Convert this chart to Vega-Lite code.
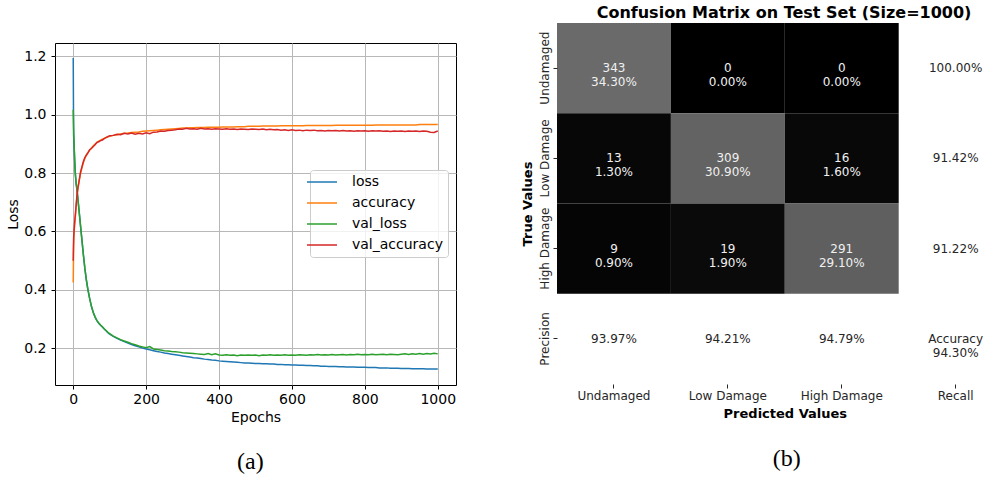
{
  "$schema": "https://vega.github.io/schema/vega-lite/v6.json",
  "padding": {"left": 6, "top": 5, "right": 0, "bottom": 0},
  "spacing": 63,
  "config": {
    "font": "DejaVu Sans",
    "view": {"stroke": null},
    "axis": {"labelFont": "DejaVu Sans", "titleFont": "DejaVu Sans"},
    "title": {"font": "DejaVu Sans"}
  },
  "datasets": {
    "hist": [
      {"epoch": 0, "loss": 1.194, "accuracy": 0.425, "val_loss": 1.017, "val_accuracy": 0.499},
      {"epoch": 1, "loss": 0.930, "accuracy": 0.545, "val_loss": 0.960, "val_accuracy": 0.574},
      {"epoch": 2, "loss": 0.905, "accuracy": 0.585, "val_loss": 0.915, "val_accuracy": 0.597},
      {"epoch": 3, "loss": 0.872, "accuracy": 0.607, "val_loss": 0.878, "val_accuracy": 0.615},
      {"epoch": 4, "loss": 0.840, "accuracy": 0.625, "val_loss": 0.845, "val_accuracy": 0.632},
      {"epoch": 5, "loss": 0.812, "accuracy": 0.640, "val_loss": 0.818, "val_accuracy": 0.645},
      {"epoch": 6, "loss": 0.792, "accuracy": 0.655, "val_loss": 0.797, "val_accuracy": 0.660},
      {"epoch": 8, "loss": 0.762, "accuracy": 0.685, "val_loss": 0.765, "val_accuracy": 0.692},
      {"epoch": 10, "loss": 0.745, "accuracy": 0.715, "val_loss": 0.747, "val_accuracy": 0.720},
      {"epoch": 12, "loss": 0.722, "accuracy": 0.738, "val_loss": 0.722, "val_accuracy": 0.742},
      {"epoch": 14, "loss": 0.696, "accuracy": 0.755, "val_loss": 0.697, "val_accuracy": 0.758},
      {"epoch": 17, "loss": 0.658, "accuracy": 0.778, "val_loss": 0.658, "val_accuracy": 0.780},
      {"epoch": 20, "loss": 0.620, "accuracy": 0.798, "val_loss": 0.619, "val_accuracy": 0.803},
      {"epoch": 24, "loss": 0.568, "accuracy": 0.818, "val_loss": 0.569, "val_accuracy": 0.822},
      {"epoch": 28, "loss": 0.518, "accuracy": 0.836, "val_loss": 0.518, "val_accuracy": 0.840},
      {"epoch": 32, "loss": 0.472, "accuracy": 0.851, "val_loss": 0.472, "val_accuracy": 0.853},
      {"epoch": 36, "loss": 0.434, "accuracy": 0.862, "val_loss": 0.434, "val_accuracy": 0.861},
      {"epoch": 40, "loss": 0.403, "accuracy": 0.870, "val_loss": 0.402, "val_accuracy": 0.868},
      {"epoch": 45, "loss": 0.370, "accuracy": 0.878, "val_loss": 0.370, "val_accuracy": 0.880},
      {"epoch": 50, "loss": 0.342, "accuracy": 0.886, "val_loss": 0.343, "val_accuracy": 0.884},
      {"epoch": 55, "loss": 0.322, "accuracy": 0.893, "val_loss": 0.322, "val_accuracy": 0.891},
      {"epoch": 60, "loss": 0.306, "accuracy": 0.899, "val_loss": 0.306, "val_accuracy": 0.897},
      {"epoch": 65, "loss": 0.294, "accuracy": 0.904, "val_loss": 0.294, "val_accuracy": 0.905},
      {"epoch": 70, "loss": 0.285, "accuracy": 0.909, "val_loss": 0.286, "val_accuracy": 0.907},
      {"epoch": 75, "loss": 0.278, "accuracy": 0.913, "val_loss": 0.279, "val_accuracy": 0.911},
      {"epoch": 80, "loss": 0.272, "accuracy": 0.916, "val_loss": 0.273, "val_accuracy": 0.913},
      {"epoch": 85, "loss": 0.265, "accuracy": 0.919, "val_loss": 0.266, "val_accuracy": 0.918},
      {"epoch": 90, "loss": 0.259, "accuracy": 0.922, "val_loss": 0.260, "val_accuracy": 0.921},
      {"epoch": 95, "loss": 0.253, "accuracy": 0.924, "val_loss": 0.254, "val_accuracy": 0.925},
      {"epoch": 100, "loss": 0.248, "accuracy": 0.926, "val_loss": 0.249, "val_accuracy": 0.928},
      {"epoch": 110, "loss": 0.240, "accuracy": 0.929, "val_loss": 0.241, "val_accuracy": 0.929},
      {"epoch": 120, "loss": 0.233, "accuracy": 0.931, "val_loss": 0.235, "val_accuracy": 0.933},
      {"epoch": 130, "loss": 0.227, "accuracy": 0.934, "val_loss": 0.229, "val_accuracy": 0.931},
      {"epoch": 140, "loss": 0.222, "accuracy": 0.936, "val_loss": 0.224, "val_accuracy": 0.936},
      {"epoch": 150, "loss": 0.217, "accuracy": 0.937, "val_loss": 0.220, "val_accuracy": 0.934},
      {"epoch": 160, "loss": 0.212, "accuracy": 0.939, "val_loss": 0.215, "val_accuracy": 0.937},
      {"epoch": 170, "loss": 0.208, "accuracy": 0.940, "val_loss": 0.211, "val_accuracy": 0.933},
      {"epoch": 180, "loss": 0.204, "accuracy": 0.941, "val_loss": 0.207, "val_accuracy": 0.936},
      {"epoch": 190, "loss": 0.200, "accuracy": 0.943, "val_loss": 0.204, "val_accuracy": 0.934},
      {"epoch": 200, "loss": 0.197, "accuracy": 0.944, "val_loss": 0.201, "val_accuracy": 0.938},
      {"epoch": 210, "loss": 0.194, "accuracy": 0.945, "val_loss": 0.205, "val_accuracy": 0.935},
      {"epoch": 220, "loss": 0.191, "accuracy": 0.946, "val_loss": 0.197, "val_accuracy": 0.940},
      {"epoch": 230, "loss": 0.188, "accuracy": 0.947, "val_loss": 0.195, "val_accuracy": 0.941},
      {"epoch": 240, "loss": 0.186, "accuracy": 0.948, "val_loss": 0.193, "val_accuracy": 0.944},
      {"epoch": 250, "loss": 0.183, "accuracy": 0.949, "val_loss": 0.191, "val_accuracy": 0.943},
      {"epoch": 260, "loss": 0.181, "accuracy": 0.950, "val_loss": 0.190, "val_accuracy": 0.946},
      {"epoch": 270, "loss": 0.179, "accuracy": 0.951, "val_loss": 0.188, "val_accuracy": 0.947},
      {"epoch": 280, "loss": 0.177, "accuracy": 0.952, "val_loss": 0.187, "val_accuracy": 0.948},
      {"epoch": 290, "loss": 0.175, "accuracy": 0.953, "val_loss": 0.186, "val_accuracy": 0.951},
      {"epoch": 300, "loss": 0.173, "accuracy": 0.954, "val_loss": 0.184, "val_accuracy": 0.950},
      {"epoch": 310, "loss": 0.171, "accuracy": 0.954, "val_loss": 0.183, "val_accuracy": 0.953},
      {"epoch": 320, "loss": 0.169, "accuracy": 0.955, "val_loss": 0.182, "val_accuracy": 0.951},
      {"epoch": 330, "loss": 0.167, "accuracy": 0.955, "val_loss": 0.181, "val_accuracy": 0.952},
      {"epoch": 340, "loss": 0.166, "accuracy": 0.956, "val_loss": 0.180, "val_accuracy": 0.950},
      {"epoch": 350, "loss": 0.164, "accuracy": 0.956, "val_loss": 0.179, "val_accuracy": 0.953},
      {"epoch": 360, "loss": 0.162, "accuracy": 0.956, "val_loss": 0.178, "val_accuracy": 0.951},
      {"epoch": 370, "loss": 0.161, "accuracy": 0.957, "val_loss": 0.181, "val_accuracy": 0.952},
      {"epoch": 380, "loss": 0.159, "accuracy": 0.957, "val_loss": 0.177, "val_accuracy": 0.950},
      {"epoch": 390, "loss": 0.158, "accuracy": 0.957, "val_loss": 0.180, "val_accuracy": 0.952},
      {"epoch": 400, "loss": 0.156, "accuracy": 0.957, "val_loss": 0.176, "val_accuracy": 0.951},
      {"epoch": 410, "loss": 0.155, "accuracy": 0.958, "val_loss": 0.175, "val_accuracy": 0.950},
      {"epoch": 420, "loss": 0.154, "accuracy": 0.958, "val_loss": 0.177, "val_accuracy": 0.952},
      {"epoch": 430, "loss": 0.153, "accuracy": 0.958, "val_loss": 0.175, "val_accuracy": 0.950},
      {"epoch": 440, "loss": 0.152, "accuracy": 0.958, "val_loss": 0.176, "val_accuracy": 0.951},
      {"epoch": 450, "loss": 0.151, "accuracy": 0.959, "val_loss": 0.174, "val_accuracy": 0.949},
      {"epoch": 460, "loss": 0.150, "accuracy": 0.959, "val_loss": 0.176, "val_accuracy": 0.951},
      {"epoch": 470, "loss": 0.149, "accuracy": 0.959, "val_loss": 0.175, "val_accuracy": 0.950},
      {"epoch": 480, "loss": 0.149, "accuracy": 0.960, "val_loss": 0.176, "val_accuracy": 0.949},
      {"epoch": 490, "loss": 0.148, "accuracy": 0.960, "val_loss": 0.175, "val_accuracy": 0.951},
      {"epoch": 500, "loss": 0.147, "accuracy": 0.960, "val_loss": 0.176, "val_accuracy": 0.950},
      {"epoch": 510, "loss": 0.147, "accuracy": 0.960, "val_loss": 0.174, "val_accuracy": 0.949},
      {"epoch": 520, "loss": 0.146, "accuracy": 0.961, "val_loss": 0.176, "val_accuracy": 0.951},
      {"epoch": 530, "loss": 0.146, "accuracy": 0.961, "val_loss": 0.175, "val_accuracy": 0.948},
      {"epoch": 540, "loss": 0.145, "accuracy": 0.961, "val_loss": 0.177, "val_accuracy": 0.950},
      {"epoch": 550, "loss": 0.145, "accuracy": 0.961, "val_loss": 0.175, "val_accuracy": 0.948},
      {"epoch": 560, "loss": 0.144, "accuracy": 0.961, "val_loss": 0.176, "val_accuracy": 0.949},
      {"epoch": 570, "loss": 0.144, "accuracy": 0.962, "val_loss": 0.175, "val_accuracy": 0.947},
      {"epoch": 580, "loss": 0.143, "accuracy": 0.962, "val_loss": 0.177, "val_accuracy": 0.948},
      {"epoch": 590, "loss": 0.143, "accuracy": 0.962, "val_loss": 0.175, "val_accuracy": 0.946},
      {"epoch": 600, "loss": 0.142, "accuracy": 0.962, "val_loss": 0.176, "val_accuracy": 0.948},
      {"epoch": 610, "loss": 0.142, "accuracy": 0.962, "val_loss": 0.175, "val_accuracy": 0.946},
      {"epoch": 620, "loss": 0.141, "accuracy": 0.962, "val_loss": 0.177, "val_accuracy": 0.947},
      {"epoch": 630, "loss": 0.141, "accuracy": 0.962, "val_loss": 0.176, "val_accuracy": 0.945},
      {"epoch": 640, "loss": 0.140, "accuracy": 0.963, "val_loss": 0.175, "val_accuracy": 0.947},
      {"epoch": 650, "loss": 0.140, "accuracy": 0.963, "val_loss": 0.177, "val_accuracy": 0.946},
      {"epoch": 660, "loss": 0.139, "accuracy": 0.963, "val_loss": 0.176, "val_accuracy": 0.947},
      {"epoch": 670, "loss": 0.139, "accuracy": 0.963, "val_loss": 0.178, "val_accuracy": 0.945},
      {"epoch": 680, "loss": 0.138, "accuracy": 0.963, "val_loss": 0.176, "val_accuracy": 0.946},
      {"epoch": 690, "loss": 0.138, "accuracy": 0.963, "val_loss": 0.177, "val_accuracy": 0.944},
      {"epoch": 700, "loss": 0.137, "accuracy": 0.963, "val_loss": 0.176, "val_accuracy": 0.946},
      {"epoch": 710, "loss": 0.137, "accuracy": 0.963, "val_loss": 0.178, "val_accuracy": 0.945},
      {"epoch": 720, "loss": 0.137, "accuracy": 0.964, "val_loss": 0.176, "val_accuracy": 0.946},
      {"epoch": 730, "loss": 0.136, "accuracy": 0.964, "val_loss": 0.177, "val_accuracy": 0.944},
      {"epoch": 740, "loss": 0.136, "accuracy": 0.964, "val_loss": 0.178, "val_accuracy": 0.946},
      {"epoch": 750, "loss": 0.135, "accuracy": 0.964, "val_loss": 0.176, "val_accuracy": 0.944},
      {"epoch": 760, "loss": 0.135, "accuracy": 0.964, "val_loss": 0.178, "val_accuracy": 0.945},
      {"epoch": 770, "loss": 0.135, "accuracy": 0.964, "val_loss": 0.177, "val_accuracy": 0.943},
      {"epoch": 780, "loss": 0.134, "accuracy": 0.964, "val_loss": 0.179, "val_accuracy": 0.945},
      {"epoch": 790, "loss": 0.134, "accuracy": 0.964, "val_loss": 0.177, "val_accuracy": 0.944},
      {"epoch": 800, "loss": 0.134, "accuracy": 0.964, "val_loss": 0.178, "val_accuracy": 0.945},
      {"epoch": 810, "loss": 0.133, "accuracy": 0.964, "val_loss": 0.177, "val_accuracy": 0.943},
      {"epoch": 820, "loss": 0.133, "accuracy": 0.964, "val_loss": 0.179, "val_accuracy": 0.945},
      {"epoch": 830, "loss": 0.133, "accuracy": 0.965, "val_loss": 0.177, "val_accuracy": 0.944},
      {"epoch": 840, "loss": 0.132, "accuracy": 0.965, "val_loss": 0.178, "val_accuracy": 0.945},
      {"epoch": 850, "loss": 0.132, "accuracy": 0.965, "val_loss": 0.179, "val_accuracy": 0.943},
      {"epoch": 860, "loss": 0.132, "accuracy": 0.965, "val_loss": 0.177, "val_accuracy": 0.944},
      {"epoch": 870, "loss": 0.131, "accuracy": 0.965, "val_loss": 0.179, "val_accuracy": 0.942},
      {"epoch": 880, "loss": 0.131, "accuracy": 0.965, "val_loss": 0.178, "val_accuracy": 0.944},
      {"epoch": 890, "loss": 0.131, "accuracy": 0.965, "val_loss": 0.177, "val_accuracy": 0.943},
      {"epoch": 900, "loss": 0.130, "accuracy": 0.965, "val_loss": 0.179, "val_accuracy": 0.944},
      {"epoch": 910, "loss": 0.130, "accuracy": 0.965, "val_loss": 0.180, "val_accuracy": 0.942},
      {"epoch": 920, "loss": 0.130, "accuracy": 0.965, "val_loss": 0.178, "val_accuracy": 0.944},
      {"epoch": 930, "loss": 0.129, "accuracy": 0.965, "val_loss": 0.180, "val_accuracy": 0.943},
      {"epoch": 940, "loss": 0.129, "accuracy": 0.965, "val_loss": 0.179, "val_accuracy": 0.944},
      {"epoch": 950, "loss": 0.129, "accuracy": 0.966, "val_loss": 0.181, "val_accuracy": 0.942},
      {"epoch": 960, "loss": 0.129, "accuracy": 0.966, "val_loss": 0.179, "val_accuracy": 0.944},
      {"epoch": 970, "loss": 0.128, "accuracy": 0.966, "val_loss": 0.181, "val_accuracy": 0.943},
      {"epoch": 980, "loss": 0.128, "accuracy": 0.966, "val_loss": 0.180, "val_accuracy": 0.940},
      {"epoch": 990, "loss": 0.128, "accuracy": 0.966, "val_loss": 0.182, "val_accuracy": 0.939},
      {"epoch": 1000, "loss": 0.128, "accuracy": 0.966, "val_loss": 0.180, "val_accuracy": 0.944}
    ],
    "cells": [
      {"actual": "Undamaged", "predicted": "Undamaged", "count": 343, "label": "343\n34.30%"},
      {"actual": "Undamaged", "predicted": "Low Damage", "count": 0, "label": "0\n0.00%"},
      {"actual": "Undamaged", "predicted": "High Damage", "count": 0, "label": "0\n0.00%"},
      {"actual": "Low Damage", "predicted": "Undamaged", "count": 13, "label": "13\n1.30%"},
      {"actual": "Low Damage", "predicted": "Low Damage", "count": 309, "label": "309\n30.90%"},
      {"actual": "Low Damage", "predicted": "High Damage", "count": 16, "label": "16\n1.60%"},
      {"actual": "High Damage", "predicted": "Undamaged", "count": 9, "label": "9\n0.90%"},
      {"actual": "High Damage", "predicted": "Low Damage", "count": 19, "label": "19\n1.90%"},
      {"actual": "High Damage", "predicted": "High Damage", "count": 291, "label": "291\n29.10%"}
    ],
    "summary": [
      {"actual": "Undamaged", "predicted": "Recall", "label": "100.00%"},
      {"actual": "Low Damage", "predicted": "Recall", "label": "91.42%"},
      {"actual": "High Damage", "predicted": "Recall", "label": "91.22%"},
      {"actual": "Precision", "predicted": "Undamaged", "label": "93.97%"},
      {"actual": "Precision", "predicted": "Low Damage", "label": "94.21%"},
      {"actual": "Precision", "predicted": "High Damage", "label": "94.79%"},
      {"actual": "Precision", "predicted": "Recall", "label": "Accuracy\n94.30%"}
    ]
  },
  "hconcat": [
    {
      "title": {"text": "(a)", "orient": "bottom", "anchor": "middle", "font": "Liberation Serif", "fontSize": 24, "fontWeight": "normal", "color": "#000000", "offset": 25, "dx": 19},
      "vconcat": [
        {
          "width": 401,
          "height": 342,
          "view": {"stroke": "#000000", "strokeWidth": 1},
          "data": {"name": "hist"},
          "transform": [{"fold": ["loss", "accuracy", "val_loss", "val_accuracy"], "as": ["series", "value"]}],
          "mark": {"type": "line", "strokeWidth": 1.5, "clip": true},
          "encoding": {
            "x": {
              "field": "epoch", "type": "quantitative",
              "scale": {"domain": [-50, 1050], "nice": false, "zero": false},
              "axis": {"values": [0, 200, 400, 600, 800, 1000], "format": "d", "title": "Epochs", "grid": true, "gridColor": "#b8b8b8", "gridWidth": 1, "domain": false, "tickColor": "#000000", "tickSize": 4, "tickWidth": 1, "labelFontSize": 14, "labelColor": "#000000", "labelPadding": 3, "titleFontSize": 14, "titleFontWeight": "normal", "titleColor": "#000000", "titlePadding": 4, "labelFlush": false}
            },
            "y": {
              "field": "value", "type": "quantitative",
              "scale": {"domain": [0.0733, 1.2457], "nice": false, "zero": false},
              "axis": {"values": [0.2, 0.4, 0.6, 0.8, 1.0, 1.2], "format": ".1f", "title": "Loss", "grid": true, "gridColor": "#b8b8b8", "gridWidth": 1, "domain": false, "tickColor": "#000000", "tickSize": 4, "tickWidth": 1, "labelFontSize": 14, "labelColor": "#000000", "labelPadding": 5, "titleFontSize": 14, "titleFontWeight": "normal", "titleColor": "#000000", "titlePadding": 3, "labelFlush": false}
            },
            "color": {
              "field": "series", "type": "nominal",
              "scale": {"domain": ["loss", "accuracy", "val_loss", "val_accuracy"], "range": ["#1f77b4", "#ff7f0e", "#2ca02c", "#d62728"]},
              "legend": {"title": null, "orient": "none", "legendX": 255, "legendY": 127, "symbolType": "M-3,0H3", "symbolSize": 100, "symbolStrokeWidth": 1.5, "labelFontSize": 14, "labelColor": "#000000", "labelFont": "DejaVu Sans", "labelOffset": 23, "rowPadding": 7, "padding": 5, "fillColor": "rgba(255,255,255,0.8)", "strokeColor": "#cccccc", "cornerRadius": 3}
            }
          }
        }
      ]
    },
    {
      "title": {"text": "(b)", "orient": "bottom", "anchor": "middle", "font": "Liberation Serif", "fontSize": 24, "fontWeight": "normal", "color": "#000000", "offset": 27, "dx": 20},
      "vconcat": [
        {
          "width": 426,
          "height": 341,
          "title": {"text": "Confusion Matrix on Test Set (Size=1000)", "fontSize": 16, "fontWeight": "bold", "color": "#000000", "offset": 2, "frame": "group", "anchor": "middle", "dx": 14},
          "encoding": {
            "x": {
              "field": "predicted", "type": "nominal",
              "scale": {"domain": ["Undamaged", "Low Damage", "High Damage", "Recall"], "range": [0, 455.6], "paddingInner": 0, "paddingOuter": 0},
              "axis": {"title": "Predicted Values", "labelAngle": 0, "titleFontWeight": "bold", "titleFontSize": 13, "titleColor": "#000000", "labelFontSize": 12, "labelColor": "#262626", "tickSize": 4, "tickColor": "#262626", "labelPadding": 2, "titlePadding": 6, "domain": false, "grid": false}
            },
            "y": {
              "field": "actual", "type": "nominal",
              "scale": {"domain": ["Undamaged", "Low Damage", "High Damage", "Precision"], "range": [-20, 341], "paddingInner": 0, "paddingOuter": 0},
              "axis": {"title": "True Values", "titleY": 160.5, "titleFontWeight": "bold", "titleFontSize": 13, "titleColor": "#000000", "labelAngle": 270, "labelAlign": "center", "labelBaseline": "bottom", "labelFontSize": 12, "labelColor": "#262626", "tickSize": 4, "tickColor": "#262626", "labelPadding": 2, "titlePadding": 4, "domain": false, "grid": false}
            }
          },
          "layer": [
            {
              "data": {"name": "cells"},
              "mark": {"type": "rect", "strokeWidth": 0},
              "encoding": {
                "color": {"field": "count", "type": "quantitative", "scale": {"type": "linear", "domain": [0, 19, 291, 343], "range": ["#000000", "#0a0a0a", "#5f5f5f", "#6a6a6a"]}, "legend": null}
              }
            },
            {
              "data": {"name": "cells"},
              "mark": {"type": "text", "lineBreak": "\n", "fontSize": 12, "lineHeight": 14, "color": "#f0f0f0", "align": "center", "baseline": "middle"},
              "encoding": {"text": {"field": "label", "type": "nominal"}}
            },
            {
              "data": {"name": "summary"},
              "mark": {"type": "text", "lineBreak": "\n", "fontSize": 12, "lineHeight": 14, "color": "#262626", "align": "center", "baseline": "middle"},
              "encoding": {"text": {"field": "label", "type": "nominal"}}
            }
          ]
        }
      ]
    }
  ]
}
